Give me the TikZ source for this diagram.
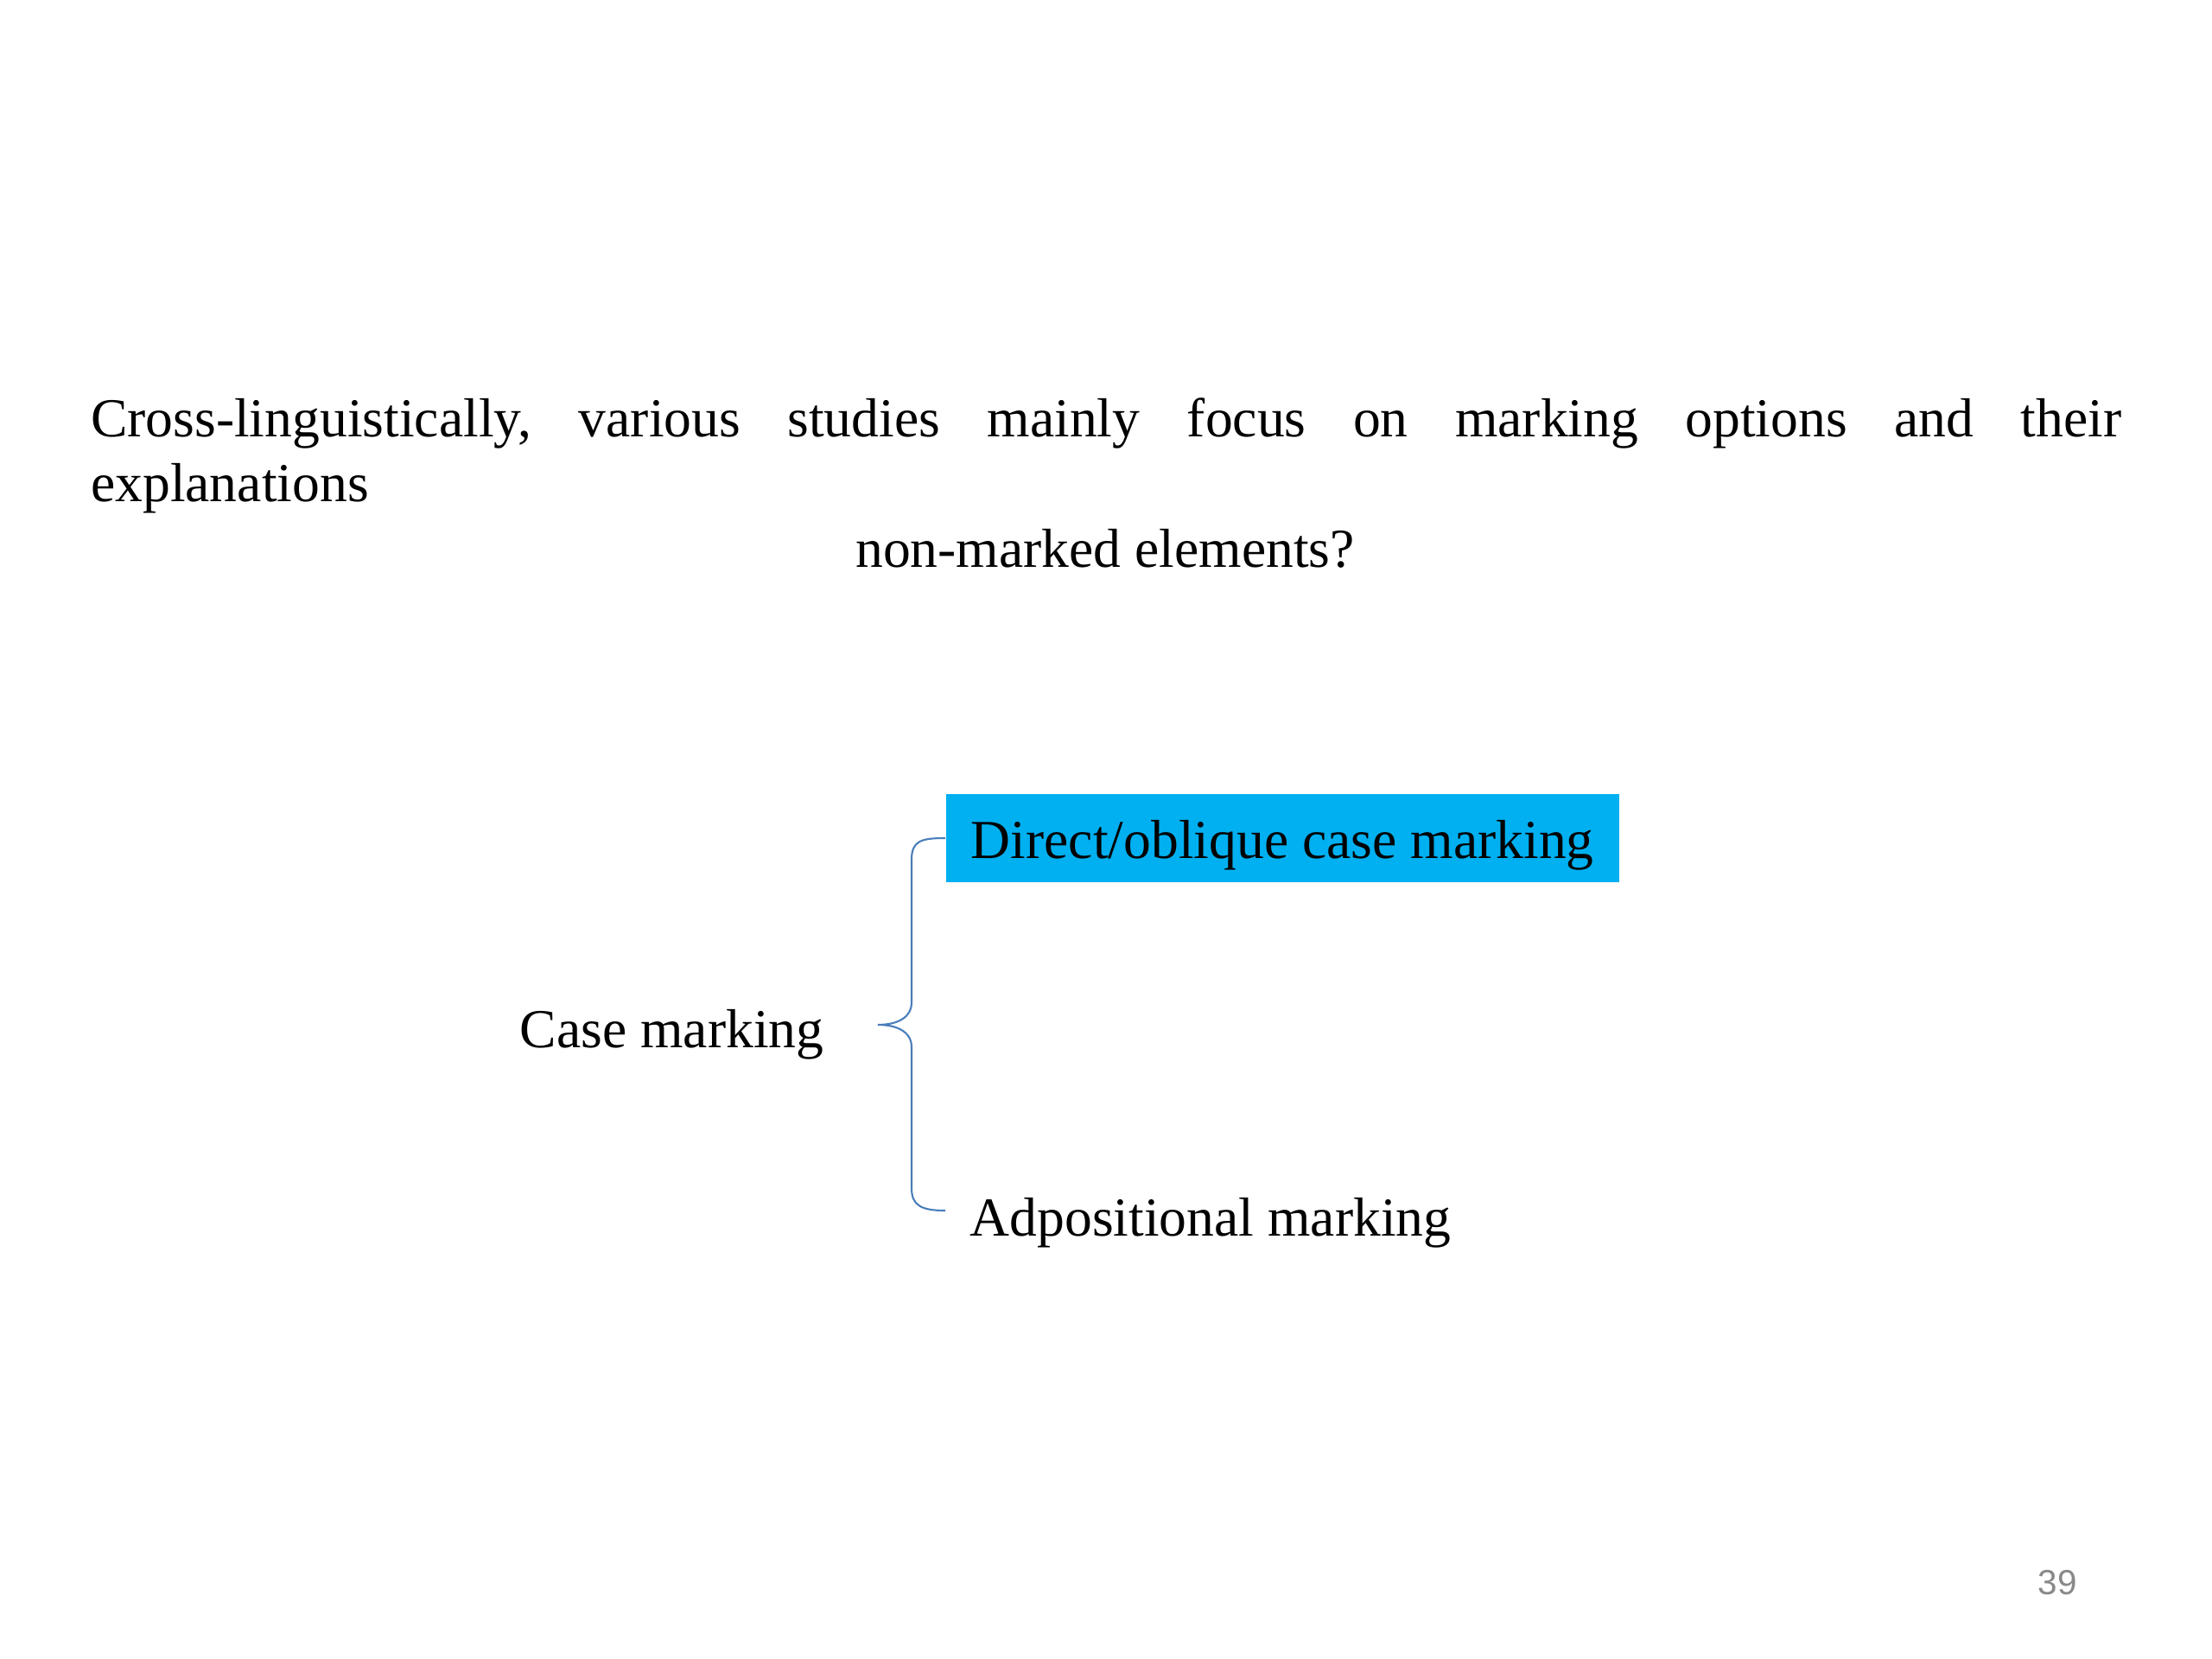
\documentclass[tikz,border=0pt]{standalone}
\usepackage{fontspec}
\setmainfont{Liberation Serif}
\newfontfamily\pagenumfont{Liberation Sans}
\usepackage{xcolor}
\usepackage{tikz}
\usetikzlibrary{positioning,calc}
\definecolor{boxcyan}{HTML}{00B0F0}
\definecolor{bracelineblue}{HTML}{4A7EBB}
\definecolor{pagegray}{HTML}{898989}
\newcommand{\slidefont}{\fontsize{18.1pt}{21.34pt}\selectfont\frenchspacing\hyphenpenalty=10000\relax}
\tikzset{
  slidetext/.style={
    inner sep=0pt,
    font=\slidefont
  },
  casebox/.style={
    slidetext,
    fill=boxcyan,
    minimum width=7.79cm,
    minimum height=1.02cm,
    text height=0.6cm,
    text depth=0.14cm
  },
  bracearc/.style={
    draw=bracelineblue,
    line width=0.6pt
  },
  pagenum/.style={
    inner sep=0pt,
    text=pagegray,
    font=\pagenumfont\fontsize{11.5pt}{13pt}\selectfont
  }
}

\begin{document}
\begin{tikzpicture}
    \useasboundingbox (0,0) rectangle (25.6,-19.2);

    \node[slidetext, anchor=base west, text width=23.5cm, align=justify] (intro) at (1.045,-5.06)
      {Cross-linguistically, various studies mainly focus on marking options and their\linebreak explanations};
    \node[slidetext, anchor=base] (question) at (12.79,-6.56) {non-marked elements?};

    \node[casebox, anchor=west] (direct) at (10.94,-9.70) {Direct/oblique case marking};
    \node[slidetext, anchor=base west] (casemark) at (6.01,-12.12) {Case marking};
    \node[slidetext, anchor=base west] (adpos) at (11.22,-14.30) {Adpositional marking};

    \coordinate (tip) at (10.16,-11.86);
    \coordinate (bbot) at (10.94,-14.01);
    \draw[bracearc] (direct.west)
      .. controls +(-0.28,0) and +(0,0.22) .. (10.55,-9.95) -- (10.55,-11.60)
      .. controls +(0,-0.18) and +(0.22,0) .. (tip)
      .. controls +(0.22,0) and +(0,0.18) .. (10.55,-12.12) -- (10.55,-13.75)
      .. controls +(0,-0.2) and +(-0.28,0) .. (bbot);

    \node[pagenum] (page) at (23.81,-18.32) {39};
  \end{tikzpicture}
\end{document}
